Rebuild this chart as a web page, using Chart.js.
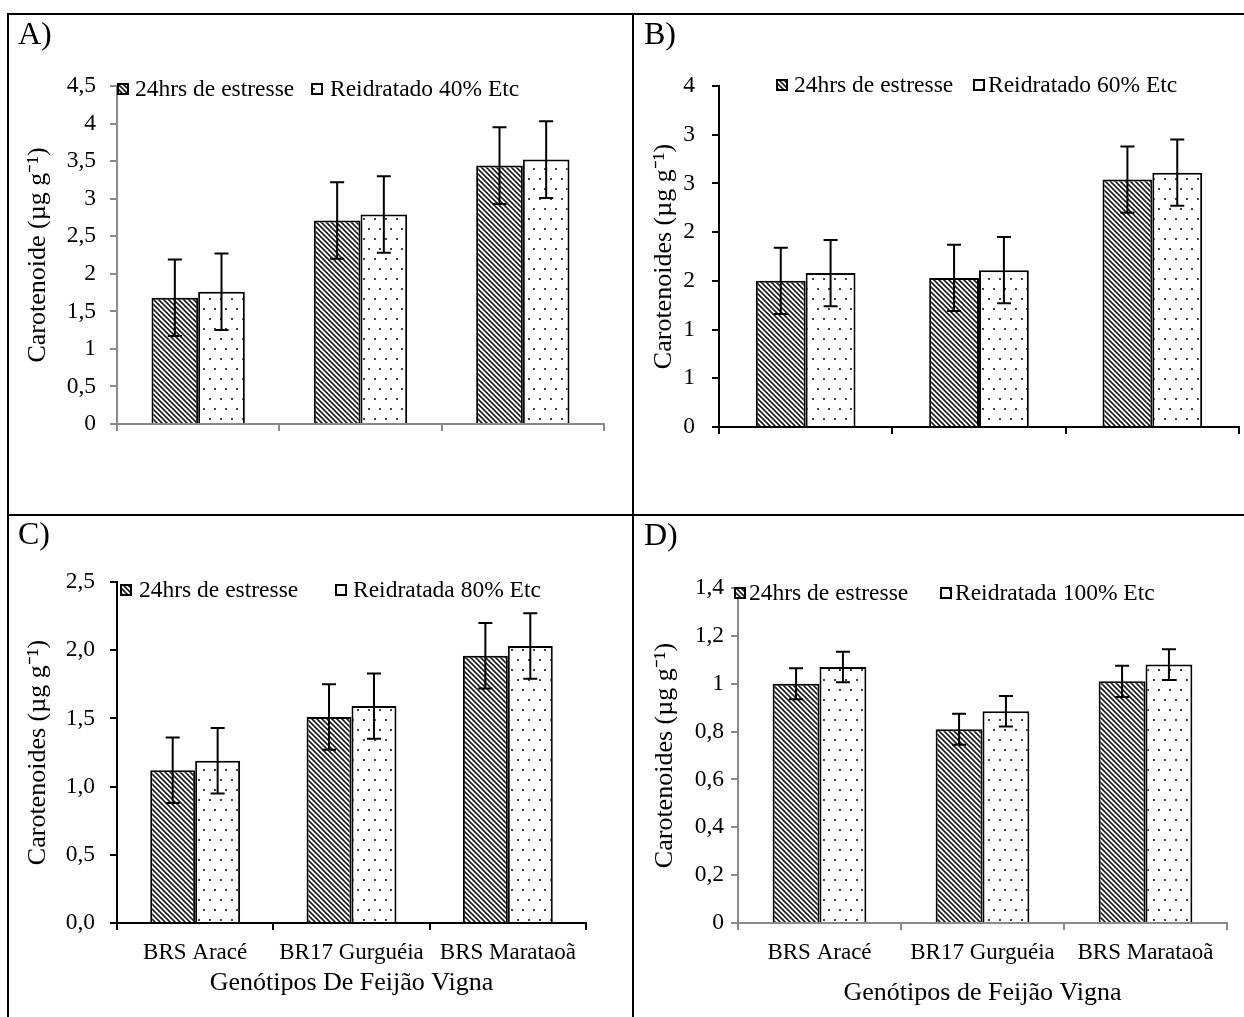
<!DOCTYPE html>
<html lang="pt">
<head>
<meta charset="utf-8">
<title>Carotenoides — genótipos de feijão vigna</title>
<script src="https://cdn.jsdelivr.net/npm/chart.js@4.4.1/dist/chart.umd.min.js"></script>
<style>
    html, body { margin: 0; padding: 0; background: #fff; }
    #figura    { position: relative; width: 1244px; height: 1017px; overflow: hidden; background: #fff; }
    .painel    { position: absolute; }
    .linha     { position: absolute; background: #000; }
</style>
</head>
<body>
<div id="figura">
    <canvas id="grafico-a" class="painel" width="623" height="499" style="left:9px;top:15px;width:623px;height:499px"></canvas>
    <canvas id="grafico-b" class="painel" width="610" height="499" style="left:634px;top:15px;width:610px;height:499px"></canvas>
    <canvas id="grafico-c" class="painel" width="623" height="501" style="left:9px;top:516px;width:623px;height:501px"></canvas>
    <canvas id="grafico-d" class="painel" width="610" height="501" style="left:634px;top:516px;width:610px;height:501px"></canvas>

    <div class="linha" style="left:7px;top:13px;width:1237px;height:2px"></div>
    <div class="linha" style="left:7px;top:13px;width:2px;height:1004px"></div>
    <div class="linha" style="left:632px;top:13px;width:2px;height:1004px"></div>
    <div class="linha" style="left:7px;top:514px;width:1237px;height:2px"></div>
</div>

<script>
// ===========================================================================
// Carotenoides em feijão vigna — 24 h de estresse x reidratação
// ===========================================================================

// ---------------------------------------------------------------------------
// DADOS
// ---------------------------------------------------------------------------

const CATEGORIAS = ['BRS Aracé', 'BR17 Gurguéia', 'BRS Marataoã'];

// A) Reidratado 40% Etc
const estresseA     = [1.68, 2.71, 3.44];
const reidratadoA   = [1.76, 2.79, 3.52];
const erroEstresseA = [0.51, 0.51, 0.51];
const erroReidratA  = [0.51, 0.51, 0.51];
const ticksA        = ['0', '0,5', '1', '1,5', '2', '2,5', '3', '3,5', '4', '4,5'];

// B) Reidratado 60% Etc (rótulos do eixo arredondados, como no original)
const estresseB     = [1.50, 1.53, 2.54];
const reidratadoB   = [1.58, 1.61, 2.61];
const erroEstresseB = [0.34, 0.34, 0.34];
const erroReidratB  = [0.34, 0.34, 0.34];
const ticksB        = ['0', '1', '1', '2', '2', '3', '3', '4'];

// C) Reidratada 80% Etc
const estresseC     = [1.12, 1.51, 1.96];
const reidratadoC   = [1.19, 1.59, 2.03];
const erroEstresseC = [0.24, 0.24, 0.24];
const erroReidratC  = [0.24, 0.24, 0.24];
const ticksC        = ['0,0', '0,5', '1,0', '1,5', '2,0', '2,5'];

// D) Reidratada 100% Etc
const estresseD     = [1.00, 0.81, 1.01];
const reidratadoD   = [1.07, 0.885, 1.08];
const erroEstresseD = [0.065, 0.065, 0.065];
const erroReidratD  = [0.064, 0.064, 0.064];
const ticksD        = ['0', '0,2', '0,4', '0,6', '0,8', '1', '1,2', '1,4'];

// ---------------------------------------------------------------------------
// ESTILO GERAL
// ---------------------------------------------------------------------------

const FONTE       = "'Liberation Serif', 'Times New Roman', serif";
const CINZA_EIXO  = '#8a8a8a';
const PRETO       = '#000000';

Chart.defaults.font.family = FONTE;
Chart.defaults.color       = PRETO;

// ---------------------------------------------------------------------------
// PAINÉIS (posições e estilos, sem dados)
// ---------------------------------------------------------------------------

const PAINEIS = [
    {
        id: 'grafico-a', letra: 'A)',
        series: [estresseA, reidratadoA], erros: [erroEstresseA, erroReidratA],
        rotulos: ['24hrs de estresse', 'Reidratado 40% Etc'],
        ticks: ticksA, passo: 0.5, maximo: 4.5,
        tituloY: 'Carotenoide (µg g⁻¹)', tituloX: '',
        corEixo: CINZA_EIXO, categorias: false,
        larguraY: 108, direita: 28, topo: 71, alturaX: 90,
        padTickY: 14, padTituloY: 14, padTituloX: 0,
        legenda: { y: 74, itens: [[108, 126], [302, 321]] },
        letraPos: [9, 29],
    },
    {
        id: 'grafico-b', letra: 'B)',
        series: [estresseB, reidratadoB], erros: [erroEstresseB, erroReidratB],
        rotulos: ['24hrs de estresse', 'Reidratado 60% Etc'],
        ticks: ticksB, passo: 0.5, maximo: 3.5,
        tituloY: 'Carotenoides (µg g⁻¹)', tituloX: '',
        corEixo: PRETO, categorias: false,
        larguraY: 85, direita: 5, topo: 71, alturaX: 87,
        padTickY: 17, padTituloY: 15, padTituloX: 0,
        legenda: { y: 70, itens: [[142, 160], [339, 354]] },
        letraPos: [10, 29],
    },
    {
        id: 'grafico-c', letra: 'C)',
        series: [estresseC, reidratadoC], erros: [erroEstresseC, erroReidratC],
        rotulos: ['24hrs de estresse', 'Reidratada 80% Etc'],
        ticks: ticksC, passo: 0.5, maximo: 2.5,
        tituloY: 'Carotenoides (µg g⁻¹)', tituloX: 'Genótipos De Feijão Vigna',
        corEixo: PRETO, categorias: true,
        larguraY: 108, direita: 46, topo: 66, alturaX: 94,
        padTickY: 15, padTituloY: 14, padTituloX: 18,
        legenda: { y: 74, itens: [[111, 130], [326, 344]] },
        letraPos: [9, 28],
    },
    {
        id: 'grafico-d', letra: 'D)',
        series: [estresseD, reidratadoD], erros: [erroEstresseD, erroReidratD],
        rotulos: ['24hrs de estresse', 'Reidratada 100% Etc'],
        ticks: ticksD, passo: 0.2, maximo: 1.4,
        tituloY: 'Carotenoides (µg g⁻¹)', tituloX: 'Genótipos de Feijão Vigna',
        corEixo: CINZA_EIXO, categorias: true,
        larguraY: 104, direita: 17, topo: 72, alturaX: 94,
        padTickY: 7, padTituloY: 16, padTituloX: 8,
        legenda: { y: 77, itens: [[100, 115], [306, 321]] },
        letraPos: [10, 29],
    },
];

// ---------------------------------------------------------------------------
// PADRÕES DE PREENCHIMENTO
// ---------------------------------------------------------------------------

function padraoHachurado(ctx) {
    const t = document.createElement('canvas');
    t.width = 5; t.height = 5;
    const c = t.getContext('2d');
    c.fillStyle = '#fff';
    c.fillRect(0, 0, 5, 5);
    c.strokeStyle = '#1a1a1a';
    c.lineWidth   = 1.6;
    c.beginPath();
    c.moveTo(-1, -1); c.lineTo(6, 6);
    c.moveTo(-1, 4);  c.lineTo(1, 6);
    c.moveTo(4, -1);  c.lineTo(6, 1);
    c.stroke();
    return ctx.createPattern(t, 'repeat');
}

function padraoPontilhado(ctx) {
    // linhas de pontos a cada 10 px, alternadas em meia coluna
    const t = document.createElement('canvas');
    t.width = 11; t.height = 20;
    const c = t.getContext('2d');
    c.fillStyle = '#fff';
    c.fillRect(0, 0, 11, 20);
    c.fillStyle = '#444';
    c.fillRect(2, 3, 2, 2);
    c.fillRect(7, 13, 2, 2);
    return ctx.createPattern(t, 'repeat');
}

// ---------------------------------------------------------------------------
// PLUGINS — barras de erro, legenda e letra do painel
// ---------------------------------------------------------------------------

const pluginErros = {
    id: 'barrasErro',
    afterDatasetsDraw(chart, args, opts) {
        const erros = opts.erros;
        if (!erros) return;
        const { ctx, scales: { y } } = chart;
        const meia = opts.meiaLargura;
        ctx.save();
        ctx.strokeStyle = PRETO;
        ctx.lineWidth   = 2;
        chart.data.datasets.forEach((ds, i) => {
            chart.getDatasetMeta(i).data.forEach((barra, j) => {
                const v     = ds.data[j];
                const e     = erros[i][j];
                const yTopo = y.getPixelForValue(v + e);
                const yBase = y.getPixelForValue(v - e);
                const x     = barra.x;
                ctx.beginPath();
                ctx.moveTo(x, yTopo);        ctx.lineTo(x, yBase);
                ctx.moveTo(x - meia, yTopo); ctx.lineTo(x + meia, yTopo);
                ctx.moveTo(x - meia, yBase); ctx.lineTo(x + meia, yBase);
                ctx.stroke();
            });
        });
        ctx.restore();
    },
};

const pluginLegenda = {
    id: 'legendaPainel',
    afterDraw(chart, args, opts) {
        if (!opts.itens) return;
        const ctx  = chart.ctx;
        const lado = 12;
        ctx.save();
        ctx.font         = `${opts.tamanho}px ${FONTE}`;
        ctx.textBaseline = 'middle';
        chart.data.datasets.forEach((ds, i) => {
            const [xq, xt] = opts.itens[i];
            const yq = opts.y - lado / 2;
            ctx.fillStyle = ds.backgroundColor;
            ctx.fillRect(xq, yq, lado, lado);
            ctx.lineWidth   = 2;
            ctx.strokeStyle = PRETO;
            ctx.strokeRect(xq + 1, yq + 1, lado - 2, lado - 2);
            ctx.fillStyle = PRETO;
            ctx.fillText(ds.label, xt, opts.y + 1);
        });
        ctx.restore();
    },
};

const pluginLetra = {
    id: 'letraPainel',
    afterDraw(chart, args, opts) {
        if (!opts.texto) return;
        const ctx = chart.ctx;
        ctx.save();
        ctx.font         = `${opts.tamanho}px ${FONTE}`;
        ctx.fillStyle    = PRETO;
        ctx.textBaseline = 'alphabetic';
        ctx.fillText(opts.texto, opts.x, opts.y);
        ctx.restore();
    },
};

Chart.register(pluginErros, pluginLegenda, pluginLetra);

// ---------------------------------------------------------------------------
// CONSTRUÇÃO DOS GRÁFICOS
// ---------------------------------------------------------------------------

function criarPainel(p) {
    const canvas  = document.getElementById(p.id);
    const ctx     = canvas.getContext('2d');
    const padroes = [padraoHachurado(ctx), padraoPontilhado(ctx)];

    return new Chart(canvas, {
        type: 'bar',
        data: {
            labels: CATEGORIAS,
            datasets: p.series.map((serie, i) => ({
                label:              p.rotulos[i],
                data:               serie,
                backgroundColor:    padroes[i],
                borderColor:        PRETO,
                borderWidth:        2,
                barPercentage:      1,
                categoryPercentage: 0.575,
            })),
        },
        options: {
            responsive:       false,
            devicePixelRatio: 1,
            animation:        false,
            events:           [],
            layout: { padding: { left: 0, right: p.direita, top: p.topo, bottom: 0 } },
            plugins: {
                legend:  { display: false },
                tooltip: { enabled: false },
                barrasErro:    { erros: p.erros, meiaLargura: 7 },
                legendaPainel: { itens: p.legenda.itens, y: p.legenda.y, tamanho: 23.5 },
                letraPainel:   { texto: p.letra, x: p.letraPos[0], y: p.letraPos[1], tamanho: 32 },
            },
            scales: {
                x: {
                    offset:   true,
                    afterFit: s => { s.height = p.alturaX; },
                    border:   { display: true, color: p.corEixo, width: 2 },
                    grid: {
                        display: true, offset: true, drawOnChartArea: false,
                        drawTicks: true, tickLength: 7, color: p.corEixo, lineWidth: 2,
                    },
                    ticks: {
                        display: p.categorias, padding: 9, color: PRETO,
                        font: { size: 23 }, maxRotation: 0, autoSkip: false,
                    },
                    title: {
                        display: !!p.tituloX, text: p.tituloX, color: PRETO,
                        font: { size: 26 }, padding: { top: 0, bottom: p.padTituloX },
                    },
                },
                y: {
                    min: 0,
                    max: p.maximo,
                    afterFit: s => { s.width = p.larguraY; },
                    border:   { display: true, color: p.corEixo, width: 2 },
                    grid: {
                        display: true, drawOnChartArea: false,
                        drawTicks: true, tickLength: 7, color: p.corEixo, lineWidth: 2,
                    },
                    ticks: {
                        stepSize: p.passo, padding: p.padTickY, color: PRETO,
                        font: { size: 23.5 },
                        callback: v => p.ticks[Math.round(v / p.passo)],
                    },
                    title: {
                        display: true, text: p.tituloY, color: PRETO,
                        font: { size: 26 }, padding: { top: p.padTituloY, bottom: 0 },
                    },
                },
            },
        },
    });
}

PAINEIS.forEach(criarPainel);
</script>
</body>
</html>
